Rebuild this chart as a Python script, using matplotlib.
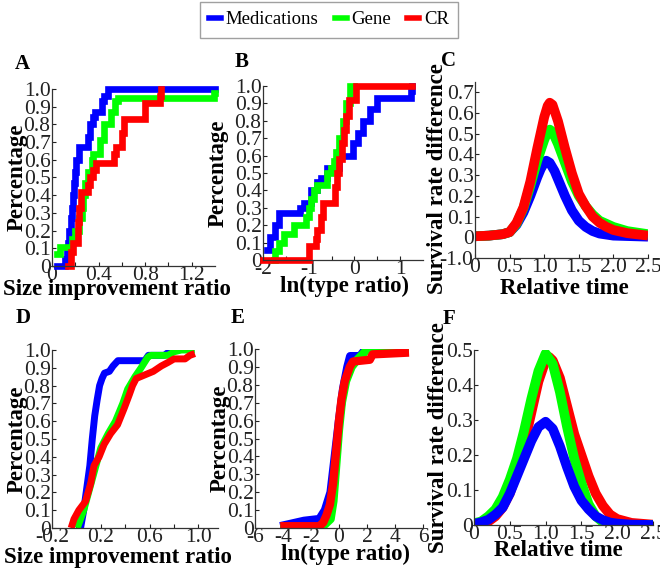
import matplotlib
matplotlib.use('Agg')
import matplotlib.pyplot as plt
from matplotlib.lines import Line2D

plt.rcParams['font.family'] = ['Liberation Serif', 'DejaVu Serif']

# ---------------- data ----------------
series_names = ['Medications', 'Gene', 'CR']
series_colors = ['#0000ff', '#00ff00', '#ff0000']

# Panel A (cumulative, step)
A_med_x = [0.04, 0.11, 0.13, 0.14, 0.15, 0.16, 0.17, 0.18, 0.19, 0.20, 0.21, 0.23, 0.31, 0.33, 0.35, 0.37, 0.43, 0.45, 0.48, 1.40]
A_med_y = [0.0, 0.04, 0.08, 0.13, 0.2, 0.27, 0.33, 0.4, 0.47, 0.53, 0.6, 0.67, 0.73, 0.8, 0.84, 0.87, 0.93, 0.96, 1.0, 1.0]
A_gene_x = [0.04, 0.07, 0.17, 0.20, 0.23, 0.255, 0.27, 0.28, 0.31, 0.34, 0.35, 0.41, 0.45, 0.51, 0.54, 0.57, 1.39, 1.40]
A_gene_y = [0.07, 0.11, 0.15, 0.2, 0.27, 0.33, 0.4, 0.47, 0.53, 0.6, 0.63, 0.71, 0.8, 0.87, 0.93, 0.95, 0.98, 0.98]
A_cr_x = [0.14, 0.16, 0.18, 0.22, 0.23, 0.245, 0.31, 0.33, 0.35, 0.38, 0.53, 0.55, 0.60, 0.62, 0.80, 0.93, 0.94]
A_cr_y = [0.0, 0.08, 0.13, 0.25, 0.33, 0.42, 0.46, 0.5, 0.54, 0.58, 0.63, 0.67, 0.75, 0.83, 0.92, 0.96, 1.0]

# Panel B (cumulative, step)
B_med_x = [-1.92, -1.84, -1.73, -1.66, -1.18, -1.10, -0.96, -0.81, -0.73, -0.59, -0.40, -0.33, -0.03, 0.08, 0.19, 0.34, 0.49, 1.23, 1.27]
B_med_y = [0.06, 0.13, 0.2, 0.27, 0.3, 0.33, 0.4, 0.45, 0.47, 0.53, 0.53, 0.6, 0.67, 0.73, 0.8, 0.87, 0.93, 0.97, 1.0]
B_gene_x = [-1.77, -1.73, -1.66, -1.55, -1.33, -1.07, -1.0, -0.96, -0.88, -0.81, -0.59, -0.51, -0.44, -0.40, -0.33, -0.25, -0.18, -0.10, 0.0]
B_gene_y = [0.0, 0.05, 0.1, 0.15, 0.2, 0.25, 0.3, 0.35, 0.4, 0.43, 0.5, 0.53, 0.57, 0.62, 0.7, 0.8, 0.9, 1.0, 1.0]
B_cr_x = [-2.0, -1.0, -0.85, -0.81, -0.73, -0.68, -0.42, -0.38, -0.33, -0.27, -0.22, -0.18, -0.12, 0.04, 1.27]
B_cr_y = [0.0, 0.08, 0.12, 0.17, 0.25, 0.33, 0.42, 0.5, 0.58, 0.67, 0.75, 0.83, 0.92, 1.0, 1.0]

# Panel C (curves)
C_med_x = [0.0, 0.2, 0.4, 0.5, 0.6, 0.7, 0.8, 0.9, 0.95, 1.0, 1.03, 1.08, 1.15, 1.2, 1.3, 1.4, 1.5, 1.6, 1.7, 1.8, 2.0, 2.5]
C_med_y = [0.005, 0.008, 0.015, 0.025, 0.06, 0.12, 0.2, 0.29, 0.33, 0.36, 0.37, 0.36, 0.32, 0.28, 0.2, 0.13, 0.08, 0.05, 0.03, 0.018, 0.008, 0.003]
C_gene_x = [0.0, 0.2, 0.4, 0.5, 0.6, 0.7, 0.8, 0.9, 1.0, 1.05, 1.08, 1.12, 1.2, 1.3, 1.4, 1.5, 1.6, 1.7, 1.8, 1.9, 2.0, 2.2, 2.5]
C_gene_y = [0.005, 0.008, 0.015, 0.025, 0.065, 0.14, 0.25, 0.37, 0.47, 0.51, 0.52, 0.51, 0.45, 0.36, 0.27, 0.2, 0.15, 0.11, 0.08, 0.065, 0.05, 0.03, 0.015]
C_cr_x = [0.0, 0.2, 0.4, 0.5, 0.6, 0.7, 0.8, 0.9, 1.0, 1.05, 1.08, 1.12, 1.2, 1.3, 1.4, 1.5, 1.6, 1.7, 1.8, 1.9, 2.0, 2.2, 2.5]
C_cr_y = [0.005, 0.008, 0.015, 0.025, 0.07, 0.145, 0.27, 0.43, 0.58, 0.635, 0.65, 0.64, 0.56, 0.43, 0.31, 0.21, 0.15, 0.1, 0.07, 0.05, 0.035, 0.02, 0.008]

# Panel D (cumulative)
D_med_x = [0.034, 0.06, 0.09, 0.11, 0.13, 0.15, 0.17, 0.19, 0.21, 0.23, 0.27, 0.30, 0.34, 0.56, 0.59, 0.72, 0.76, 0.80]
D_med_y = [0.0, 0.1, 0.25, 0.35, 0.5, 0.63, 0.72, 0.8, 0.84, 0.87, 0.88, 0.91, 0.94, 0.94, 0.97, 0.97, 0.99, 1.0]
D_gene_x = [0.007, 0.06, 0.12, 0.16, 0.20, 0.26, 0.32, 0.38, 0.42, 0.48, 0.53, 0.585, 0.61, 0.75, 0.80, 0.86, 0.97]
D_gene_y = [0.0, 0.1, 0.25, 0.35, 0.45, 0.53, 0.6, 0.7, 0.78, 0.85, 0.9, 0.96, 0.97, 0.97, 0.99, 1.0, 1.0]
D_cr_x = [-0.043, -0.02, 0.02, 0.075, 0.117, 0.144, 0.186, 0.227, 0.28, 0.337, 0.39, 0.434, 0.46, 0.49, 0.56, 0.63, 0.695, 0.75, 0.80, 0.89, 0.93, 0.97]
D_cr_y = [0.0, 0.05, 0.1, 0.15, 0.25, 0.35, 0.4, 0.47, 0.53, 0.58, 0.67, 0.75, 0.8, 0.84, 0.86, 0.88, 0.91, 0.93, 0.95, 0.95, 0.97, 0.98]

# Panel E (cumulative)
E_med_x = [-4.2, -2.5, -1.4, -1.0, -0.6, -0.3, 0.0, 0.3, 0.6, 0.8, 1.5, 1.9, 5.0]
E_med_y = [0.01, 0.04, 0.05, 0.1, 0.2, 0.4, 0.6, 0.78, 0.9, 0.96, 0.96, 1.0, 1.0]
E_gene_x = [-4.2, -1.5, -1.0, -0.6, -0.4, -0.2, 0.0, 0.2, 0.5, 0.9, 1.3, 1.8, 2.0, 5.0]
E_gene_y = [0.0, 0.0, 0.02, 0.05, 0.15, 0.35, 0.55, 0.7, 0.82, 0.9, 0.94, 0.98, 1.0, 1.0]
E_cr_x = [-4.2, -1.4, -1.13, -0.9, -0.65, -0.42, -0.18, 0.0, 0.18, 0.41, 0.77, 1.0, 2.2, 2.4, 5.0]
E_cr_y = [0.01, 0.01, 0.03, 0.07, 0.13, 0.25, 0.45, 0.6, 0.72, 0.82, 0.9, 0.93, 0.94, 0.97, 0.98]

# Panel F (curves)
F_med_x = [0.0, 0.1, 0.2, 0.3, 0.4, 0.5, 0.6, 0.7, 0.8, 0.9, 1.0, 1.1, 1.2, 1.3, 1.4, 1.5, 1.6, 1.7, 1.8, 1.9, 2.0, 2.2, 2.5]
F_med_y = [0.003, 0.008, 0.015, 0.03, 0.05, 0.09, 0.14, 0.19, 0.24, 0.28, 0.295, 0.275, 0.225, 0.165, 0.11, 0.07, 0.045, 0.025, 0.014, 0.007, 0.004, 0.001, 0.0]
F_gene_x = [0.0, 0.1, 0.2, 0.3, 0.4, 0.5, 0.6, 0.7, 0.8, 0.9, 1.0, 1.1, 1.2, 1.3, 1.4, 1.5, 1.6, 1.7, 1.8, 1.9, 2.0, 2.5]
F_gene_y = [0.005, 0.01, 0.025, 0.045, 0.08, 0.13, 0.19, 0.27, 0.36, 0.44, 0.49, 0.46, 0.38, 0.28, 0.19, 0.12, 0.06, 0.025, 0.008, 0.002, 0.0, 0.0]
F_cr_x = [0.0, 0.1, 0.2, 0.3, 0.4, 0.5, 0.6, 0.7, 0.8, 0.9, 1.0, 1.05, 1.1, 1.2, 1.3, 1.4, 1.5, 1.6, 1.7, 1.8, 1.9, 2.0, 2.2, 2.5]
F_cr_y = [0.0, 0.003, 0.01, 0.025, 0.05, 0.09, 0.15, 0.23, 0.32, 0.41, 0.47, 0.48, 0.47, 0.42, 0.34, 0.26, 0.2, 0.14, 0.09, 0.055, 0.03, 0.017, 0.006, 0.001]

# tick labels
pct_ticks = [0.0, 0.1, 0.2, 0.3, 0.4, 0.5, 0.6, 0.7, 0.8, 0.9, 1.0]
pct_labels = ['0', '0.1', '0.2', '0.3', '0.4', '0.5', '0.6', '0.7', '0.8', '0.9', '1.0']
A_xticks = [0.0, 0.2, 0.4, 0.6, 0.8, 1.0, 1.2]
A_xlabels = ['0', '', '0.4', '', '0.8', '', '1.2']
B_xticks = [-2.0, -1.5, -1.0, -0.5, 0.0, 0.5, 1.0]
B_xlabels = ['-2', '', '-1', '', '0', '', '1']
C_yticks = [-0.1, 0.0, 0.1, 0.2, 0.3, 0.4, 0.5, 0.6, 0.7]
C_ylabels = ['-1.0', '0', '0.1', '0.2', '0.3', '0.4', '0.5', '0.6', '0.7']
time_ticks = [0.0, 0.5, 1.0, 1.5, 2.0, 2.5]
time_labels = ['0', '0.5', '1.0', '1.5', '2.0', '2.5']
D_xticks = [-0.2, 0.0, 0.2, 0.4, 0.6, 0.8, 1.0]
D_xlabels = ['-0.2', '', '0.2', '', '0.6', '', '1.0']
E_xticks = [-6, -4, -2, 0, 2, 4, 6]
E_xlabels = ['-6', '-4', '-2', '0', '2', '4', '6']
F_yticks = [0.0, 0.1, 0.2, 0.3, 0.4, 0.5]
F_ylabels = ['0', '0.1', '0.2', '0.3', '0.4', '0.5']

# ---------------- figure ----------------
W, H = 660, 574
fig = plt.figure(figsize=(W / 100, H / 100), dpi=100)

TICK_FS = 15.5
LAB_FS = 16.5


def make_axes(l, r, t, b):
    ax = fig.add_axes([l / W, 1 - b / H, (r - l) / W, (b - t) / H])
    for s in ['top', 'right']:
        ax.spines[s].set_visible(False)
    for s in ['left', 'bottom']:
        ax.spines[s].set_linewidth(0.9)
        ax.spines[s].set_color('#333333')
    ax.tick_params(direction='in', length=3, width=0.8, labelsize=TICK_FS, pad=1, colors='#222222')
    ax.tick_params(axis='x', pad=0)
    return ax


def set_labels(ax, xl, yl, xpos, ypos):
    ax.set_xlabel(xl, fontsize=LAB_FS, fontweight='bold', va='center')
    ax.set_ylabel(yl, fontsize=LAB_FS, fontweight='bold', va='center')
    ax.xaxis.set_label_coords(*xpos)
    ax.yaxis.set_label_coords(*ypos)


def letter(x, y, s):
    fig.text(x / W, 1 - y / H, s, fontsize=15, fontweight='bold', ha='center', va='center')


# A
axA = make_axes(52, 215, 89, 266)
for xs, ys, c in [(A_med_x, A_med_y, series_colors[0]), (A_gene_x, A_gene_y, series_colors[1]), (A_cr_x, A_cr_y, series_colors[2])]:
    axA.plot(xs, ys, color=c, lw=4.8, drawstyle='steps-post', solid_joinstyle='miter', clip_on=False)
axA.set_xlim(0, 1.4)
axA.set_ylim(0, 1.0)
axA.set_xticks(A_xticks, A_xlabels)
axA.set_yticks(pct_ticks, pct_labels)
set_labels(axA, 'Size improvement ratio', 'Percentage', (0.40, -0.135), (-0.215, 0.5))

# B
axB = make_axes(263, 423, 86, 260)
for xs, ys, c in [(B_med_x, B_med_y, series_colors[0]), (B_gene_x, B_gene_y, series_colors[1]), (B_cr_x, B_cr_y, series_colors[2])]:
    axB.plot(xs, ys, color=c, lw=4.8, drawstyle='steps-post', solid_joinstyle='miter', clip_on=False)
axB.set_xlim(-2, 1.5)
axB.set_ylim(0, 1.0)
axB.set_xticks(B_xticks, B_xlabels)
axB.set_yticks(pct_ticks, pct_labels)
set_labels(axB, 'ln(type ratio)', 'Percentage', (0.51, -0.15), (-0.28, 0.5))

# C
axC = make_axes(475, 648, 82, 258)
for xs, ys, c in [(C_med_x, C_med_y, series_colors[0]), (C_gene_x, C_gene_y, series_colors[1]), (C_cr_x, C_cr_y, series_colors[2])]:
    axC.plot(xs, ys, color=c, lw=7, solid_capstyle='butt', solid_joinstyle='round')
axC.set_xlim(0, 2.5)
axC.set_ylim(-0.1, 0.75)
axC.set_xticks(time_ticks, time_labels)
axC.set_yticks(C_yticks, C_ylabels)
set_labels(axC, 'Relative time', 'Survival rate difference', (0.514, -0.176), (-0.215, 0.45))

# D
axD = make_axes(52, 218, 350, 528)
for xs, ys, c in [(D_med_x, D_med_y, series_colors[0]), (D_gene_x, D_gene_y, series_colors[1]), (D_cr_x, D_cr_y, series_colors[2])]:
    axD.plot(xs, ys, color=c, lw=5, solid_capstyle='butt', solid_joinstyle='round')
axD.set_xlim(-0.2, 1.16)
axD.set_ylim(0, 1.0)
axD.set_xticks(D_xticks, D_xlabels)
axD.set_yticks(pct_ticks, pct_labels)
set_labels(axD, 'Size improvement ratio', 'Percentage', (0.40, -0.163), (-0.21, 0.5))

# E
axE = make_axes(255, 423, 349, 528)
for xs, ys, c in [(E_med_x, E_med_y, series_colors[0]), (E_gene_x, E_gene_y, series_colors[1]), (E_cr_x, E_cr_y, series_colors[2])]:
    axE.plot(xs, ys, color=c, lw=6, solid_capstyle='butt', solid_joinstyle='round')
axE.set_xlim(-6, 6)
axE.set_ylim(0, 1.0)
axE.set_xticks(E_xticks, E_xlabels)
axE.set_yticks(pct_ticks, pct_labels)
set_labels(axE, 'ln(type ratio)', 'Percentage', (0.536, -0.145), (-0.21, 0.5))

# F
axF = make_axes(474, 653, 350, 525)
for xs, ys, c in [(F_cr_x, F_cr_y, series_colors[2]), (F_gene_x, F_gene_y, series_colors[1]), (F_med_x, F_med_y, series_colors[0])]:
    axF.plot(xs, ys, color=c, lw=7, solid_capstyle='butt', solid_joinstyle='round')
axF.set_xlim(0, 2.5)
axF.set_ylim(0, 0.5)
axF.set_xticks(time_ticks, time_labels)
axF.set_yticks(F_yticks, F_ylabels)
set_labels(axF, 'Relative time', 'Survival rate difference', (0.47, -0.143), (-0.196, 0.5))

# panel letters
letter(22, 64, 'A')
letter(242, 62, 'B')
letter(449, 61, 'C')
letter(23, 318, 'D')
letter(238, 318, 'E')
letter(449, 319, 'F')

# legend
handles = [Line2D([0], [0], color=c, lw=4) for c in series_colors]
fig.legend(handles, series_names, loc='upper center', bbox_to_anchor=(329 / W, 1 - 2 / H),
           ncol=3, frameon=True, fancybox=False, edgecolor='#888888', fontsize=13.5,
           handlelength=0.65, handletextpad=0.25, columnspacing=0.85, borderpad=0.5,
           borderaxespad=0)

fig.savefig('out.png', dpi=100)
